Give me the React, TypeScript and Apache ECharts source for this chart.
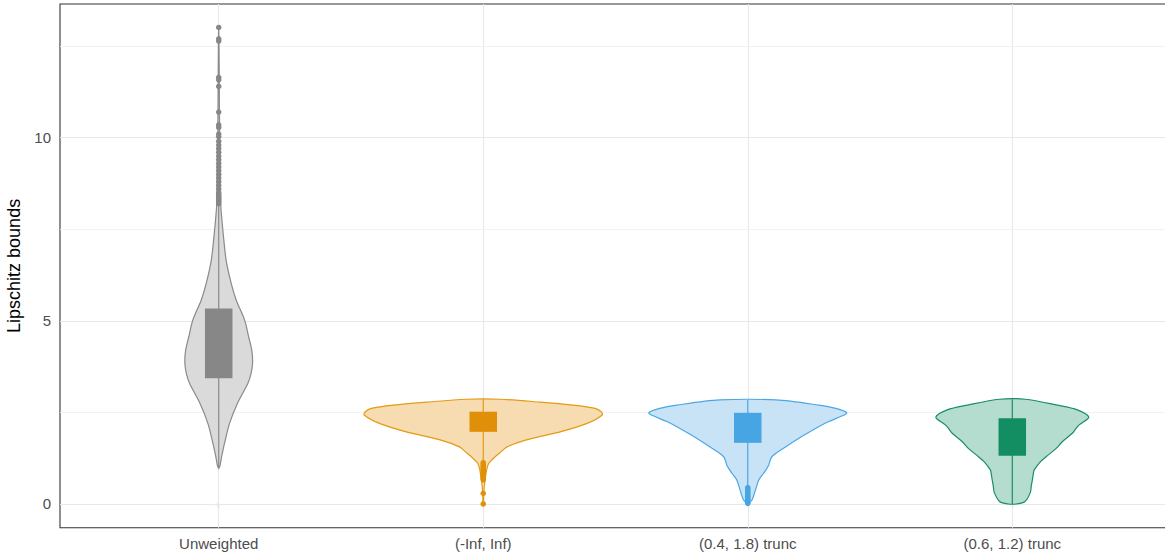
import React, { useEffect, useRef } from "react";
import * as echarts from "echarts";

// ---- data ----
const categories = ["Unweighted", "(-Inf, Inf)", "(0.4, 1.8) trunc", "(0.6, 1.2) trunc"];

// violin profiles: [value, half width in category units]
const violinUnweighted = [
  [0.975, 0], [1.02, 0.004], [1.29, 0.011], [1.66, 0.022], [2.2, 0.041], [2.75, 0.071],
  [3.29, 0.11], [3.55, 0.122], [3.84, 0.128], [4.2, 0.125], [4.57, 0.113], [5.02, 0.098],
  [5.57, 0.066], [6.03, 0.047], [6.66, 0.028], [7.3, 0.018], [7.84, 0.011], [8.12, 0.008],
  [8.6, 0.006], [9.5, 0.004], [10.5, 0.003], [11.6, 0.002], [12.7, 0.001], [13.01, 0],
];
const violinInfInf = [
  [0.0, 0.001], [0.3, 0.002], [0.6, 0.006], [0.9, 0.012], [1.1, 0.02], [1.29, 0.045],
  [1.43, 0.068], [1.56, 0.09], [1.75, 0.163], [1.97, 0.291], [2.2, 0.393], [2.43, 0.45],
  [2.52, 0.446], [2.61, 0.423], [2.7, 0.34], [2.78, 0.216], [2.86, 0.064],
];
const violinTrunc18 = [
  [0.0, 0.0], [0.11, 0.016], [0.38, 0.029], [0.66, 0.042], [0.84, 0.06], [1.06, 0.079],
  [1.29, 0.091], [1.56, 0.144], [1.84, 0.204], [2.11, 0.268], [2.25, 0.306], [2.4, 0.355],
  [2.49, 0.374], [2.61, 0.333], [2.7, 0.268], [2.84, 0.106],
];
const violinTrunc12 = [
  [0.0, 0.015], [0.06, 0.047], [0.31, 0.068], [0.5, 0.072], [0.66, 0.076], [0.84, 0.08],
  [0.93, 0.083], [1.15, 0.106], [1.29, 0.128], [1.52, 0.166], [1.7, 0.189], [1.93, 0.227],
  [2.07, 0.242], [2.16, 0.253], [2.37, 0.289], [2.57, 0.246], [2.7, 0.17], [2.86, 0.049],
];
const violins = [violinUnweighted, violinInfInf, violinTrunc18, violinTrunc12];

const boxQ1 = [3.43, 1.97, 1.67, 1.32];
const boxQ3 = [5.34, 2.52, 2.49, 2.34];
const whiskerLow = [0.975, 1.15, 0.46, 0.0];
const whiskerHigh = [8.15, 2.86, 2.84, 2.86];

const outliersUnweighted = [
  13.01, 12.7, 12.64, 11.65, 11.58, 11.4, 10.7, 10.35, 10.28, 10.1, 10.03, 9.9, 9.8, 9.7,
  9.6, 9.5, 9.4, 9.3, 9.2, 9.1, 9.0, 8.9, 8.8, 8.7, 8.6, 8.5, 8.45, 8.4, 8.35, 8.3, 8.25, 8.2,
];
const outliersInfInf = [1.13, 1.09, 1.05, 1.01, 0.97, 0.93, 0.89, 0.85, 0.8, 0.75, 0.7, 0.66, 0.29, 0.0];
const outliersTrunc18 = [0.45, 0.41, 0.37, 0.33, 0.29, 0.25, 0.21, 0.17, 0.13, 0.09, 0.05, 0.02];
const outliersTrunc12: number[] = [];
const outliers = [outliersUnweighted, outliersInfInf, outliersTrunc18, outliersTrunc12];

const yTicks = [0, 5, 10];
const yMinorGrid = [2.5, 7.5, 12.5];
const xTicks = [0, 1, 2, 3];

// ---- styles ----
const lineColors = ["#8a8a8a", "#e39b14", "#4aa7e4", "#1a8d65"];
const boxColors = ["#878787", "#e08f09", "#47a5e3", "#138e63"];
const fillColors = ["#dadada", "#f6dcb0", "#c8e3f6", "#b5ddcf"];
const FONT = "'Liberation Sans', Arial, Helvetica, sans-serif";
const BOX_HALF = 0.052;

export default function App() {
  const ref = useRef<HTMLDivElement>(null);

  useEffect(() => {
    if (!ref.current) return;
    const chart = echarts.init(ref.current, undefined, { renderer: "svg" });

    const renderItem = (params: any, api: any) => {
      const i = api.value(0) as number;
      const unit = api.size([1, 0])[0];
      const center = api.coord([i, 0]);
      const cx = center[0];
      const prof = violins[i];
      const right = prof.map(([y, w]) => {
        const p = api.coord([i, y]);
        return [p[0] + w * unit, p[1]];
      });
      const left = prof
        .slice()
        .reverse()
        .map(([y, w]) => {
          const p = api.coord([i, y]);
          return [p[0] - w * unit, p[1]];
        });
      const q1 = api.coord([i, boxQ1[i]]);
      const q3 = api.coord([i, boxQ3[i]]);
      const lo = api.coord([i, whiskerLow[i]]);
      const hi = api.coord([i, whiskerHigh[i]]);
      return {
        type: "group",
        children: [
          {
            type: "polygon",
            shape: { points: right.concat(left), smooth: 0.3 },
            style: { fill: fillColors[i], stroke: lineColors[i], lineWidth: 1.2 },
          },
          {
            type: "line",
            shape: { x1: cx, y1: lo[1], x2: cx, y2: hi[1] },
            style: { stroke: lineColors[i], lineWidth: 1.2 },
          },
          {
            type: "rect",
            shape: {
              x: cx - BOX_HALF * unit,
              y: q3[1],
              width: 2 * BOX_HALF * unit,
              height: q1[1] - q3[1],
            },
            style: { fill: boxColors[i] },
          },
        ],
      };
    };

    const gridLines = [
      ...yTicks.map((v) => ({ yAxis: v })),
      ...xTicks.map((v) => ({ xAxis: v })),
      ...yMinorGrid.map((v) => ({ yAxis: v, lineStyle: { color: "#f0f0f0", width: 0.9, type: "solid" } })),
    ];

    const scatterSeries = outliers.map((arr, i) => ({
      type: "scatter",
      data: arr.map((v) => [i, v]),
      symbol: "circle",
      symbolSize: 5.5,
      itemStyle: { color: boxColors[i], opacity: 1 },
      z: 4,
      silent: true,
      ...(i === 0
        ? {
            markLine: {
              silent: true,
              symbol: ["none", "none"],
              z: 1,
              label: { show: false },
              lineStyle: { color: "#e8e8e8", width: 1.1, type: "solid" },
              emphasis: { disabled: true },
              data: gridLines,
            },
          }
        : {}),
    }));

    chart.setOption({
      animation: false,
      backgroundColor: "#ffffff",
      textStyle: { fontFamily: FONT },
      grid: {
        left: 60,
        top: 4,
        width: 1111,
        height: 523.8,
        show: true,
        borderColor: "#333333",
        borderWidth: 1.1,
        backgroundColor: "#ffffff",
        containLabel: false,
        outerBoundsMode: "none",
      },
      xAxis: {
        type: "value",
        min: -0.6,
        max: 3.6,
        axisLine: { show: false },
        splitLine: { show: false },
        axisTick: { show: true, length: 4, customValues: xTicks, lineStyle: { color: "#333333", width: 1.1 } },
        axisLabel: {
          customValues: xTicks,
          formatter: (v: number) => categories[Math.round(v)] ?? "",
          color: "#4d4d4d",
          fontSize: 15,
          fontFamily: FONT,
          margin: 8,
        },
      },
      yAxis: {
        type: "value",
        min: -0.65,
        max: 13.65,
        name: "Lipschitz bounds",
        nameLocation: "middle",
        nameGap: 29,
        nameTextStyle: { fontSize: 18, color: "#000000", fontFamily: FONT },
        axisLine: { show: false },
        splitLine: { show: false },
        axisTick: { show: true, length: 4, customValues: yTicks, lineStyle: { color: "#333333", width: 1.1 } },
        axisLabel: {
          customValues: yTicks,
          color: "#4d4d4d",
          fontSize: 15,
          fontFamily: FONT,
          margin: 9,
        },
      },
      series: [
        {
          type: "custom",
          data: categories.map((_, i) => [i, 0]),
          encode: { x: 0, y: 1 },
          renderItem,
          z: 2,
          silent: true,
          clip: false,
        },
        ...scatterSeries,
      ],
    });

    return () => chart.dispose();
  }, []);

  return (
    <div
      ref={ref}
      style={{ position: "fixed", left: 0, top: 0, width: 1165, height: 555, background: "#fff" }}
    />
  );
}
